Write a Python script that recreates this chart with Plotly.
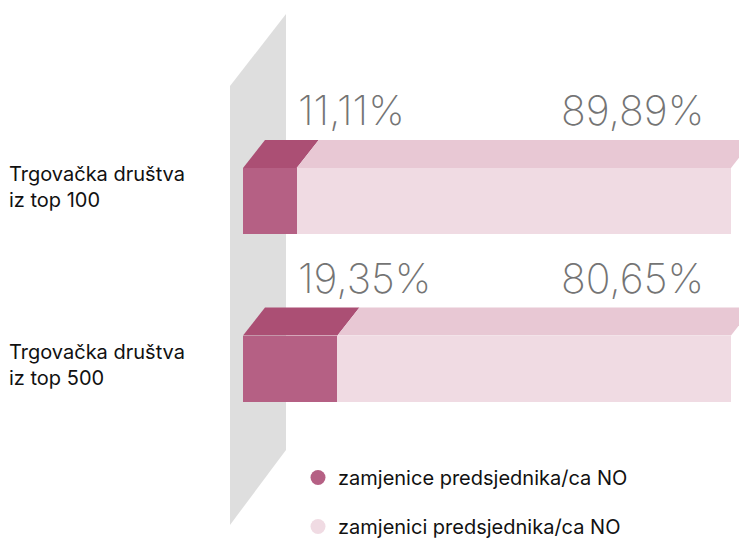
import plotly.graph_objects as go

# ---- data ----
categories = ["Trgovačka društva<br>iz top 100", "Trgovačka društva<br>iz top 500"]
series_names = ["zamjenice predsjednika/ca NO", "zamjenici predsjednika/ca NO"]
series_a = [11.11, 19.35]   # zamjenice
series_b = [89.89, 80.65]   # zamjenici
value_labels_a = ["11,11%", "19,35%"]
value_labels_b = ["89,89%", "80,65%"]

# ---- style ----
OFF = 8  # page body margin
W, H = 747 - OFF, 538 - OFF
front_colors = ["#b56084", "#f0dbe3"]
top_colors = ["#ab4f74", "#e8c8d4"]
wall_color = "#dedede"
FONT = "Inter"


def P(v):
    return v - OFF


# axis geometry (x in percent units, y in category units; y reversed)
px_per_x = 4.88
x0_px = P(243)
px_per_y = 167.5
y0_px = P(201)
xr = [-x0_px / px_per_x, (W - x0_px) / px_per_x]
yr = [(H - y0_px) / px_per_y, -y0_px / px_per_y]
bw = 0.394
dx = 22 / px_per_x
dy = -28 / px_per_y

ypos = list(range(len(categories)))

fig = go.Figure()

# front faces (percent-normalized stacked bars)
for vals, name, col in [(series_a, series_names[0], front_colors[0]),
                        (series_b, series_names[1], front_colors[1])]:
    fig.add_trace(go.Bar(x=vals, y=ypos, orientation="h", width=bw,
                         marker=dict(color=col, line=dict(width=0)),
                         name=name, showlegend=False, hoverinfo="skip"))

# top faces computed from normalized data
for i in ypos:
    tot = series_a[i] + series_b[i]
    segs = [(0, series_a[i] / tot * 100), (series_a[i] / tot * 100, 100)]
    yt = i - bw / 2
    for (a, b), col in zip(segs, top_colors):
        fig.add_trace(go.Scatter(
            x=[a, b, b + dx, a + dx, a],
            y=[yt, yt, yt + dy, yt + dy, yt],
            mode="lines", fill="toself", fillcolor=col,
            line=dict(width=0, color=col), showlegend=False, hoverinfo="skip"))

# legend entries (circle markers)
for k, (name, col) in enumerate(zip(series_names, front_colors)):
    fig.add_trace(go.Scatter(x=[None], y=[None], mode="markers",
                             marker=dict(symbol="circle", size=15, color=col),
                             name=name, legendgroup=f"g{k}", showlegend=True))

# back wall
wall = [(230, 86), (286, 14), (286, 450), (230, 525)]
path = "M " + " L ".join(f"{P(x) / W:.5f},{1 - P(y) / H:.5f}" for x, y in wall) + " Z"
fig.add_shape(type="path", path=path, xref="paper", yref="paper",
              fillcolor=wall_color, line=dict(width=0), layer="below")

# value labels
lbl_font = dict(family=FONT, size=41, color="#747474", weight=200)
for i in ypos:
    ylab = i - 0.543
    fig.add_annotation(x=(P(296) - x0_px) / px_per_x, y=ylab, text=value_labels_a[i],
                       xanchor="left", yanchor="middle", showarrow=False, font=lbl_font)
    fig.add_annotation(x=(P(706) - x0_px) / px_per_x, y=ylab, text=value_labels_b[i],
                       xanchor="right", yanchor="middle", showarrow=False, font=lbl_font)

# category labels
cat_y_px = [187, 365]
for i, c in enumerate(categories):
    fig.add_annotation(x=P(7) / W, xref="paper", y=(P(cat_y_px[i]) - y0_px) / px_per_y, yref="y",
                       text=c, align="left", xanchor="left", yanchor="middle",
                       showarrow=False, font=dict(family=FONT, size=20, color="#111111"))

fig.update_layout(
    width=W, height=H, margin=dict(l=0, r=0, t=0, b=0, autoexpand=False),
    paper_bgcolor="white", plot_bgcolor="rgba(0,0,0,0)",
    barmode="stack", barnorm="percent", bargap=0,
    xaxis=dict(range=xr, visible=False, fixedrange=True),
    yaxis=dict(range=yr, visible=False, fixedrange=True),
    legend=dict(x=P(298) / W, y=1 - P(458) / H, xanchor="left", yanchor="top",
                font=dict(family=FONT, size=20, color="#111111"),
                tracegroupgap=20, bgcolor="rgba(0,0,0,0)"),
    showlegend=True,
)

fig.write_html("out.html")
